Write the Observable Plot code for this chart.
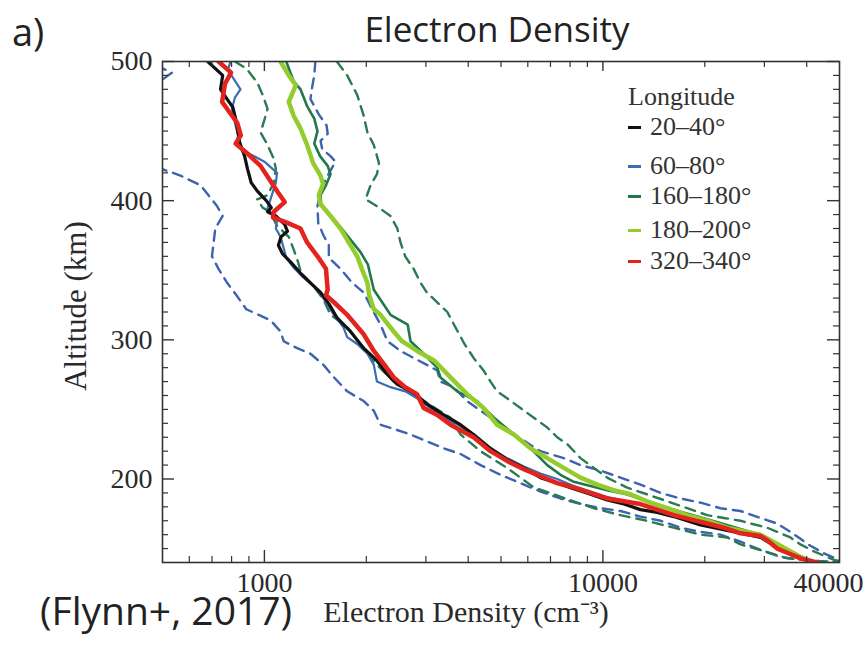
<!DOCTYPE html>
<html>
<head>
<meta charset="utf-8">
<script src="https://cdn.jsdelivr.net/npm/d3@7"></script>
<script src="https://cdn.jsdelivr.net/npm/@observablehq/plot@0.6"></script>
<style>
  body { margin: 0; background: #fff; }
  #wrap { position: relative; width: 866px; height: 657px; overflow: hidden; background: #fff; }
  #head { position: relative; height: 48px; }
  #tag { position: absolute; left: 12px; top: 9px; font: 38px "Open Sans", sans-serif; line-height: 44px; color: #222; }
  #title { position: absolute; left: 297px; width: 400px; top: 9px; text-align: center; font: 35px "Open Sans", sans-serif; line-height: 40px; color: #222; }
  #caption { position: absolute; left: 40px; top: 595px; font: 39px "Open Sans", sans-serif; line-height: 30px; color: #222; }
  #legend { position: absolute; left: 628px; top: 0; font-family: "Liberation Serif", serif; font-size: 26px; color: #333; }
  .lrow { position: absolute; left: 0; white-space: nowrap; line-height: 28px; }
  .sw { display: inline-block; width: 13px; height: 0; border-top: 3px solid; vertical-align: middle; margin-right: 9px; margin-top: -3px; }
</style>
</head>
<body>
<div id="wrap">
  <div id="head"><div id="tag">a)</div><div id="title">Electron Density</div></div>
  <div id="chart"></div>
  <div id="legend"></div>
  <div id="caption">(Flynn+, 2017)</div>
</div>
<script>
// ---- Data: [electron density (cm^-3), altitude (km)] ----
const lon20_40 = [[680,500],[753,490],[742,480],[776,473],[807,467],[822,459],[836,449],[845,442],[874,432],[891,423],[914,413],[952,407],[1013,400],[1048,395],[1022,392],[1081,389],[1148,383],[1170,378],[1120,374],[1100,368],[1130,362],[1194,356],[1278,348],[1368,341],[1465,334],[1550,326],[1637,316],[1796,306],[1965,294],[2150,285],[2310,275],[2470,268],[2760,262],[3020,254],[3390,246],[3796,239],[4150,232],[4656,222],[5210,214],[5840,208],[6540,201],[7330,197],[8200,193],[9190,189],[10290,185],[11530,182],[12910,178],[14470,176],[16180,173],[19425,167],[25500,161],[29210,158],[32700,151],[36000,146],[40360,141]];
const lon60_80 = [[794,500],[780,494],[850,480],[818,474],[802,466],[818,456],[836,447],[827,441],[884,435],[1000,428],[1090,420],[1081,413],[1058,406],[1036,399],[1020,394],[1048,391],[1090,386],[1081,380],[1116,374],[1140,366],[1160,359],[1220,352],[1300,345],[1435,336],[1520,327],[1605,318],[1712,309],[1756,302],[1880,297],[2015,290],[2105,282],[2150,270],[2358,266],[2606,263],[2825,258],[3095,251],[3390,244],[3796,238],[4150,231],[4656,222],[5210,215],[5840,209],[6540,204],[7330,200],[8200,195],[9190,191],[10290,187],[12910,182],[16180,175],[20330,169],[25500,163],[29210,160],[33500,152],[37500,146],[42000,140]];
const lon160_180 = [[1160,500],[1220,486],[1278,480],[1337,468],[1404,459],[1435,450],[1404,441],[1460,432],[1538,425],[1568,419],[1520,411],[1465,404],[1470,398],[1568,389],[1678,381],[1796,372],[1923,363],[2023,354],[2058,346],[2105,336],[2228,327],[2358,318],[2650,311],[2702,299],[2955,290],[3240,280],[3313,273],[3710,263],[4250,256],[4770,244],[5460,232],[6110,222],[6850,210],[7494,203],[8200,198],[9190,195],[10290,192],[11750,189],[13500,184],[16180,178],[20330,171],[25500,164],[29210,160],[35040,148],[42000,140]];
const lon180_200 = [[1116,500],[1180,490],[1238,483],[1180,471],[1220,461],[1278,452],[1337,440],[1393,427],[1465,418],[1490,412],[1448,404],[1460,398],[1568,389],[1678,380],[1775,370],[1880,360],[1940,351],[2015,341],[2040,332],[2105,322],[2203,318],[2410,306],[2550,299],[2825,292],[3180,285],[3546,273],[3970,261],[4440,251],[4870,239],[5460,232],[6110,222],[6850,215],[7660,208],[8586,201],[9620,196],[10760,192],[12063,189],[13500,184],[15500,179],[17750,174],[20330,170],[23300,165],[29210,160],[33465,152],[38345,144],[42000,140]];
const lon320_340 = [[732,500],[797,492],[765,484],[750,471],[781,465],[831,456],[852,447],[822,441],[880,435],[974,425],[1043,414],[1096,406],[1148,399],[1066,392],[1060,388],[1170,384],[1278,380],[1337,370],[1435,360],[1520,351],[1538,336],[1520,332],[1605,327],[1756,318],[1965,304],[2105,292],[2263,282],[2410,273],[2606,266],[2825,261],[2955,251],[3240,246],[3546,239],[4150,230],[4656,220],[5210,213],[5840,207],[6540,202],[7330,197],[8200,194],[9190,190],[10290,186],[11530,184],[12910,182],[14470,178],[16180,174],[18140,171],[20330,168],[22770,165],[25500,161],[29210,159],[30570,156],[32730,150],[35040,147],[38345,143],[42900,140]];
// dashed envelopes
const lon60_80_low = [[480,497],[533,492],[500,487],[460,470],[455,445],[494,423],[565,418],[648,411],[725,396],[753,389],[716,380],[708,370],[700,360],[732,351],[776,341],[827,332],[884,322],[1043,314],[1116,306],[1140,299],[1250,294],[1368,290],[1495,282],[1605,273],[1756,263],[1965,256],[2105,249],[2203,239],[2410,236],[2702,232],[3020,227],[3390,222],[3796,218],[4349,210],[4983,203],[5709,197],[6540,191],[7494,186],[8586,182],[9836,179],[11270,177],[12913,173],[14795,170],[16955,165],[19425,162],[22250,160],[25500,155],[29210,149],[32000,146],[35040,143],[48000,140]];
const lon60_80_high = [[1414,500],[1404,490],[1380,480],[1368,473],[1448,462],[1527,454],[1538,448],[1465,443],[1482,437],[1568,432],[1622,428],[1538,418],[1465,408],[1435,396],[1442,384],[1495,375],[1550,368],[1550,359],[1678,351],[1817,341],[1965,334],[2080,322],[2203,311],[2310,299],[2524,292],[2760,287],[3020,282],[3240,278],[3313,270],[3630,266],[3970,256],[4656,244],[5460,232],[6540,220],[7660,215],[8586,210],[9836,206],[11270,201],[12913,196],[14795,190],[16955,186],[19425,183],[22250,179],[25500,177],[29210,172],[32730,168],[35820,162],[38345,157],[41045,152],[45500,146],[52000,140]];
const lon160_180_low = [[818,500],[884,495],[952,485],[988,476],[1022,466],[1000,458],[974,449],[1022,440],[1066,430],[1081,423],[1066,413],[1022,404],[952,401],[988,395],[1036,392],[1090,382],[1180,374],[1220,365],[1257,356],[1283,348],[1393,339],[1495,329],[1568,318],[1756,309],[1923,297],[2150,282],[2410,270],[2760,261],[3095,253],[3546,244],[3796,232],[4349,220],[5210,208],[6250,194],[7150,189],[8200,184],[9400,179],[11270,174],[13500,170],[16180,165],[19425,160],[23300,158],[25500,153],[29210,149],[33465,144],[38345,142],[43935,141],[52000,140]];
const lon160_180_high = [[1637,500],[1756,490],[1880,476],[1965,461],[2015,449],[2105,440],[2180,427],[2150,419],[2058,411],[1990,401],[2150,396],[2358,389],[2470,380],[2524,370],[2606,360],[2760,351],[2892,341],[3020,334],[3240,327],[3470,320],[3630,311],[3900,297],[4150,287],[4440,278],[4656,270],[4870,263],[5210,258],[5709,251],[6250,244],[6850,237],[7330,230],[7850,225],[8586,215],[9400,208],[10290,201],[11750,194],[13500,189],[15500,184],[17750,179],[20330,174],[22770,172],[25500,170],[27290,168],[30570,165],[33465,161],[35820,158],[38345,153],[42000,148],[48000,142],[52000,140]];

// ---- Ticks ----
const xMajorTicks = [1000, 10000];
const xMinorTicks = [600, 700, 800, 900, 2000, 3000, 4000, 5000, 6000, 7000, 8000, 9000, 20000, 30000, 40000];
const xLabelTicks = [1000, 10000];
const xEdgeLabel = [{x: 50000, text: "40000"}];
const yMajorTicks = [200, 300, 400, 500];
const yMinorTicks = [150,160,170,180,190,210,220,230,240,250,260,270,280,290,310,320,330,340,350,360,370,380,390,410,420,430,440,450,460,470,480,490];

// ---- Legend ----
const legendLabels = ["20–40°", "60–80°", "160–180°", "180–200°", "320–340°"];
const legendColors = ["#111111", "#3b6db3", "#22784c", "#93cc2c", "#e3231e"];

const dashBlue = "#3d63ae", dashGreen = "#2a7a52";
const series = [
  {data: lon60_80_low,   stroke: dashBlue,  w: 2.4, dash: "10,7"},
  {data: lon60_80_high,  stroke: dashBlue,  w: 2.4, dash: "10,7"},
  {data: lon160_180_low, stroke: dashGreen, w: 2.4, dash: "10,7"},
  {data: lon160_180_high,stroke: dashGreen, w: 2.4, dash: "10,7"},
  {data: lon160_180, stroke: legendColors[2], w: 2.6},
  {data: lon60_80,   stroke: legendColors[1], w: 2.2},
  {data: lon20_40,   stroke: legendColors[0], w: 3.2},
  {data: lon180_200, stroke: legendColors[3], w: 4.5},
  {data: lon320_340, stroke: legendColors[4], w: 4.5}
];

const W = 866, H = 609, mT = 13, mB = 95, mL = 162, mR = 27;
const innerH = H - mT - mB, innerW = W - mL - mR;
const tickColor = "#333";

const chart = Plot.plot({
  width: W, height: H,
  marginTop: mT, marginBottom: mB, marginLeft: mL, marginRight: mR,
  x: {type: "log", domain: [500, 50000]},
  y: {domain: [140, 500]},
  style: {fontFamily: "'Liberation Serif', serif", fontSize: "28px", color: "#2a2a2a", background: "white", overflow: "visible"},
  marks: [
    ...series.map(s => Plot.line(s.data, {x: d => d[0], y: d => d[1], stroke: s.stroke, strokeWidth: s.w, strokeDasharray: s.dash, strokeLinejoin: "round", clip: true})),
    // bottom & top ticks (inward)
    Plot.tickX(xMajorTicks, {x: d => d, insetTop: innerH - 12, stroke: tickColor, strokeWidth: 1.4}),
    Plot.tickX(xMinorTicks, {x: d => d, insetTop: innerH - 6, stroke: tickColor, strokeWidth: 1.2}),
    Plot.tickX(xMajorTicks, {x: d => d, insetBottom: innerH - 10, stroke: tickColor, strokeWidth: 1.4}),
    Plot.tickX(xMinorTicks, {x: d => d, insetBottom: innerH - 6, stroke: tickColor, strokeWidth: 1.2}),
    // left & right ticks (inward)
    Plot.tickY(yMajorTicks, {y: d => d, insetRight: innerW - 12, stroke: tickColor, strokeWidth: 1.4}),
    Plot.tickY(yMinorTicks, {y: d => d, insetRight: innerW - 6, stroke: tickColor, strokeWidth: 1.2}),
    Plot.tickY(yMajorTicks, {y: d => d, insetLeft: innerW - 12, stroke: tickColor, strokeWidth: 1.4}),
    Plot.tickY(yMinorTicks, {y: d => d, insetLeft: innerW - 6, stroke: tickColor, strokeWidth: 1.2}),
    Plot.frame({stroke: "#333", strokeWidth: 1.6}),
    Plot.axisY(yMajorTicks, {anchor: "left", tickSize: 0, tickPadding: 10, fontSize: 28, label: null}),
    Plot.axisX(xLabelTicks, {anchor: "bottom", tickSize: 0, tickPadding: 10, fontSize: 28, label: null, tickFormat: d => String(d)}),
    Plot.text(xEdgeLabel, {x: "x", text: "text", frameAnchor: "bottom", dy: 10, dx: 24, textAnchor: "end", lineAnchor: "top", fontSize: 28, fill: "#2a2a2a"}),
    Plot.text(["Altitude (km)"], {frameAnchor: "left", dx: -86, dy: -6, rotate: -90, fontSize: 31, textAnchor: "middle", lineAnchor: "middle", fill: "#2a2a2a"}),
    Plot.text(["Electron Density (cm⁻³)"], {frameAnchor: "bottom", dx: -35, dy: 50, fontSize: 30, textAnchor: "middle", lineAnchor: "middle", fill: "#2a2a2a"})
  ]
});
document.getElementById("chart").appendChild(chart);

// legend
const legend = document.getElementById("legend");
const legendTitleRow = document.createElement("div");
legendTitleRow.className = "lrow";
legendTitleRow.style.top = "83px";
legendTitleRow.textContent = "Longitude";
legend.appendChild(legendTitleRow);
const rowTops = [113, 152, 182, 216, 247];
legendLabels.forEach((lab, i) => {
  const row = document.createElement("div");
  row.className = "lrow";
  row.style.top = rowTops[i] + "px";
  const sw = document.createElement("span");
  sw.className = "sw";
  sw.style.borderColor = legendColors[i];
  row.appendChild(sw);
  row.appendChild(document.createTextNode(lab));
  legend.appendChild(row);
});
</script>
</body>
</html>
